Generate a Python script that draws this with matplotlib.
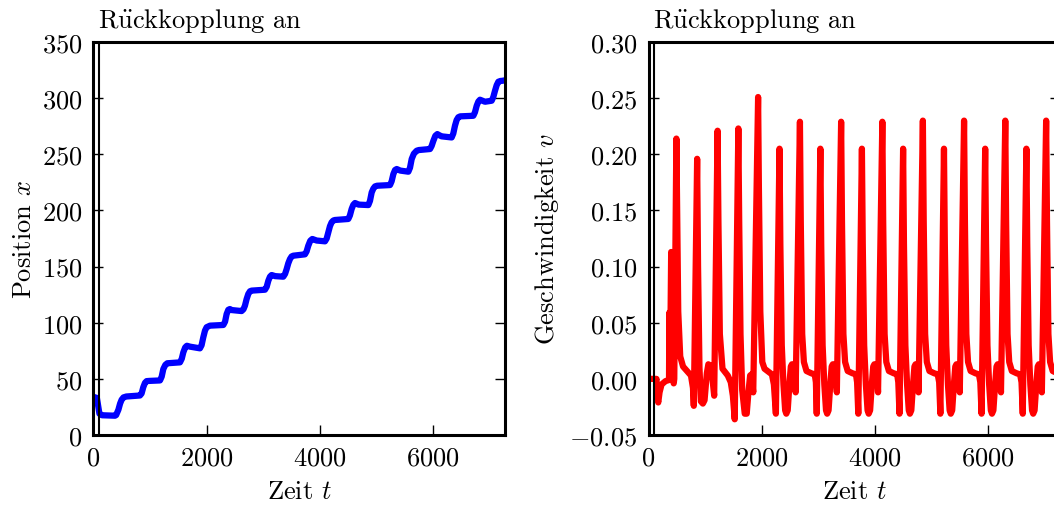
import matplotlib
matplotlib.use("Agg")
import matplotlib.pyplot as plt

plt.rcParams['font.family'] = ['cmr10', 'DejaVu Serif']
plt.rcParams['mathtext.fontset'] = 'cm'
plt.rcParams['axes.formatter.use_mathtext'] = True
plt.rcParams['font.size'] = 19

# Position x(t)
pos_t = [0, 60, 105, 150, 380, 400, 440, 470, 497, 530, 580, 821, 850, 880, 910, 939, 990,
         1175, 1205, 1234, 1270, 1304, 1528, 1560, 1587, 1620, 1650, 1705, 1881, 1910, 1940,
         1970, 1999, 2058, 2294, 2325, 2352, 2382, 2410, 2440, 2617, 2650, 2676, 2705, 2735,
         2765, 2794, 3030, 3060, 3089, 3118, 3147, 3180, 3210, 3354, 3385, 3413, 3442, 3471,
         3500, 3530, 3736, 3765, 3795, 3830, 3866, 3900, 3943, 4090, 4120, 4149, 4178, 4207,
         4236, 4266, 4502, 4530, 4561, 4590, 4620, 4650, 4680, 4856, 4885, 4915, 4945, 4974,
         5010, 5239, 5268, 5298, 5328, 5357, 5390, 5420, 5563, 5592, 5622, 5660, 5710, 5750,
         5946, 5975, 6005, 6040, 6075, 6110, 6150, 6328, 6357, 6387, 6416, 6446, 6480, 6711,
         6740, 6770, 6800, 6829, 6870, 6917, 7035, 7064, 7094, 7123, 7153, 7190, 7229, 7280]
pos_x = [34, 33, 19, 17.6, 17.2, 17.8, 22.5, 28, 31.4, 33.5, 34.3, 35.2, 37, 42.6, 46.5, 48, 48.2,
         48.6, 52, 58.8, 62.5, 63.9, 64.7, 68, 73.6, 78, 79.5, 78.7, 77.2, 80, 87,
         93, 96, 97.4, 98, 101, 107.7, 111.5, 112.2, 111.3, 110.4, 112, 115.2, 121, 125.6,
         128, 128.6, 129.4, 132, 137.4, 141, 142.5, 142, 141.5, 141, 143.5, 147.8, 153, 156.7,
         159, 159.7, 160.9, 163.5, 168.6, 173, 174.6, 174, 173.2, 172.5, 175, 180.5, 186, 189.4,
         191, 191.5, 192.4, 195.5, 201.3, 205, 206.6, 206, 205.2, 204.8, 208.5, 216, 219.5, 221.4,
         222, 222.6, 226, 232.4, 236, 236.9, 236.2, 235.5, 234.5, 238, 245.8, 250.5, 253.2, 253.8,
         254.7, 257.5, 262, 266.5, 268, 267, 266, 265, 268.5, 275.5, 280.5, 283, 283.8, 284.3,
         287.5, 293.2, 297, 298.6, 297.8, 296.8, 297.7, 301, 306.6, 311.5, 314.6, 315.3, 315.5, 316]

# Velocity v(t)
vel_t = [0, 140, 160, 172, 195, 230, 300, 362, 368, 374, 380, 400, 410, 430, 445, 455,
         492, 505, 525, 560, 610, 680, 750, 785, 800, 859, 875, 900, 925, 960, 990, 1030,
         1057, 1090, 1130, 1160, 1220, 1235, 1260, 1307, 1400, 1453, 1490, 1523, 1587, 1602,
         1625, 1655, 1700, 1735, 1765, 1795, 1820, 1850, 1936, 1950, 1975, 2010, 2050, 2180,
         2215, 2250,
         2314, 2329, 2354, 2384, 2414, 2434, 2459, 2489, 2514, 2534, 2564, 2584, 2599,
         2675, 2690, 2715, 2745, 2791, 2875, 2937, 2957, 2972,
         3036, 3051, 3076, 3106, 3136, 3156, 3181, 3211, 3236, 3256, 3286, 3306, 3327,
         3403, 3418, 3443, 3473, 3519, 3603, 3665, 3685, 3706,
         3770, 3785, 3810, 3840, 3870, 3890, 3915, 3945, 3970, 3990, 4020, 4040, 4055,
         4131, 4146, 4171, 4201, 4247, 4331, 4393, 4413, 4434,
         4498, 4513, 4538, 4568, 4598, 4618, 4643, 4673, 4698, 4718, 4748, 4760, 4771,
         4847, 4862, 4887, 4917, 4963, 5047, 5109, 5135, 5156,
         5220, 5235, 5260, 5290, 5320, 5340, 5365, 5395, 5420, 5440, 5470, 5485, 5499,
         5575, 5590, 5615, 5645, 5691, 5775, 5837, 5862, 5884,
         5948, 5963, 5988, 6018, 6048, 6068, 6093, 6123, 6148, 6168, 6198, 6213, 6227,
         6303, 6318, 6343, 6373, 6419, 6503, 6565, 6590, 6612,
         6676, 6691, 6716, 6746, 6776, 6796, 6821, 6851, 6876, 6896, 6926, 6938, 6949,
         7025, 7040, 7065, 7095, 7141, 7225, 7280]
vel_v = [0.0, 0.0, -0.018, -0.021, -0.012, -0.005, -0.002, -0.001, 0.059, 0.01, 0.005, 0.113, 0.06, 0.0, -0.004, 0.0,
         0.214, 0.15, 0.06, 0.02, 0.011, 0.007, 0.003, -0.008, -0.024, 0.196, 0.1, 0.01, -0.02, -0.022, -0.019, 0.005,
         0.013, 0.012, 0.0, -0.015, 0.221, 0.14, 0.04, 0.009, 0.003, -0.003, -0.015, -0.036, 0.223, 0.14,
         0.04, -0.01, -0.031, -0.031, -0.012, 0.003, 0.004, -0.012, 0.251, 0.17, 0.06, 0.015, 0.009, 0.004,
         -0.005, -0.031,
         0.205, 0.12, 0.03, -0.005, -0.028, -0.031, -0.028, -0.005, 0.011, 0.013, 0.013, 0.005, -0.012,
         0.229, 0.14, 0.04, 0.015, 0.007, 0.005, 0.004, -0.003, -0.031,
         0.205, 0.12, 0.03, -0.005, -0.028, -0.031, -0.028, -0.005, 0.011, 0.013, 0.013, 0.005, -0.012,
         0.229, 0.14, 0.04, 0.015, 0.007, 0.005, 0.004, -0.003, -0.031,
         0.205, 0.12, 0.03, -0.005, -0.028, -0.031, -0.028, -0.005, 0.011, 0.013, 0.013, 0.005, -0.012,
         0.229, 0.14, 0.04, 0.015, 0.007, 0.005, 0.004, -0.003, -0.031,
         0.205, 0.12, 0.03, -0.005, -0.028, -0.031, -0.028, -0.005, 0.011, 0.013, 0.013, 0.005, -0.012,
         0.230, 0.14, 0.04, 0.015, 0.007, 0.005, 0.004, -0.003, -0.031,
         0.205, 0.12, 0.03, -0.005, -0.028, -0.031, -0.028, -0.005, 0.011, 0.013, 0.013, 0.005, -0.012,
         0.230, 0.14, 0.04, 0.015, 0.007, 0.005, 0.004, -0.003, -0.031,
         0.205, 0.12, 0.03, -0.005, -0.028, -0.031, -0.028, -0.005, 0.011, 0.013, 0.013, 0.005, -0.012,
         0.230, 0.14, 0.04, 0.015, 0.007, 0.005, 0.004, -0.003, -0.031,
         0.205, 0.12, 0.03, -0.005, -0.028, -0.031, -0.028, -0.005, 0.011, 0.013, 0.013, 0.005, -0.012,
         0.230, 0.14, 0.04, 0.015, 0.007, 0.005, 0.004]

t_feedback = 100
t_max = 7270
x_ticks = [0, 2000, 4000, 6000]
title_text = r"R$\ddot{\mathrm{u}}$ckkopplung an"

fig = plt.figure(figsize=(10.54, 5.06), dpi=100)
ax1 = fig.add_axes([0.0887, 0.1383, 0.3904, 0.7767])
ax2 = fig.add_axes([0.6153, 0.1383, 0.3904, 0.7767])

ax1.plot(pos_t, pos_x, color='blue', lw=4.5, solid_joinstyle='round', solid_capstyle='round')
ax2.plot(vel_t, vel_v, color='red', lw=4.5, solid_joinstyle='round', solid_capstyle='round')

ax1.set_ylim(0, 350)
ax1.set_yticks(range(0, 351, 50))
ax1.set_ylabel(r'Position $x$', labelpad=4)
ax2.set_ylim(-0.05, 0.30)
ax2.set_yticks([-0.05, 0.0, 0.05, 0.10, 0.15, 0.20, 0.25, 0.30])
ax2.set_ylabel(r'Geschwindigkeit $v$', labelpad=6)

for ax in (ax1, ax2):
    ax.axvline(t_feedback, color='black', lw=1.5)
    ax.set_xlim(0, t_max)
    ax.set_xticks(x_ticks)
    ax.set_xlabel(r'Zeit $t$', labelpad=7)
    ax.tick_params(direction='in', top=False, right=True, length=7, width=1, pad=8)
    for s in ax.spines.values():
        s.set_linewidth(2.2)
    ax.text(0.012, 1.038, title_text, transform=ax.transAxes, ha='left', va='baseline')

fig.savefig('out.png', dpi=100)
